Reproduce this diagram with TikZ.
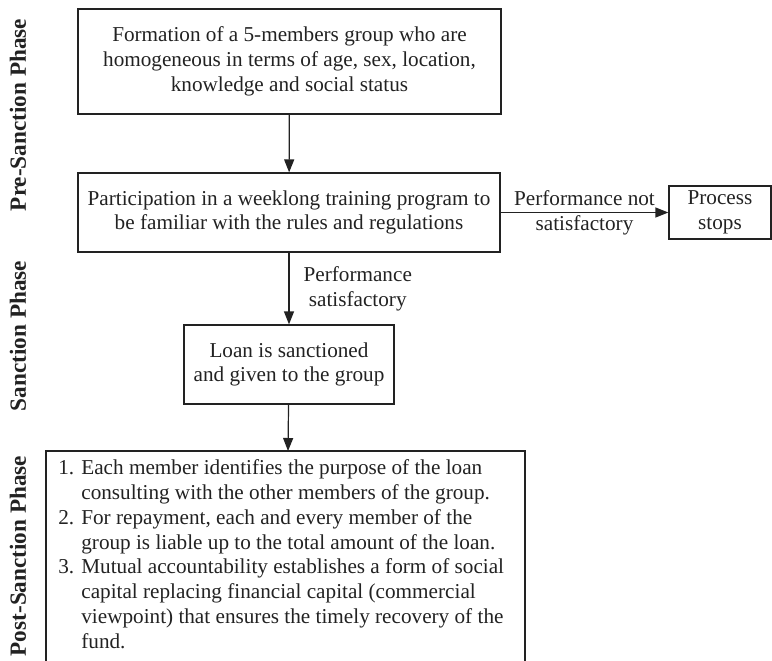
\documentclass[tikz,border=0pt]{standalone}
\usepackage{fontspec}
\setmainfont{Liberation Serif}
\usetikzlibrary{arrows.meta}
\definecolor{ink}{HTML}{222222}
\begin{document}
\begin{tikzpicture}[x=0.5pt,y=-0.5pt,
  every node/.style={text=ink, font=\fontsize{10.6}{12.4}\selectfont},
  box/.style={draw=ink, line width=0.6pt, inner sep=0pt, align=center},
  flow/.style={draw=ink, line width=0.6pt, -{Triangle[length=6.5pt,width=5pt]}},
  phase/.style={rotate=90, font=\fontsize{11.6}{13}\selectfont\bfseries},
  lbl/.style={align=center, inner sep=0pt}]
\useasboundingbox (0,0) rectangle (772,660);

% phase labels
\node[phase] (pre)  at (18,115) {Pre-Sanction Phase};
\node[phase] (sanc) at (18,336) {Sanction Phase};
\node[phase] (post) at (18,556) {Post-Sanction Phase};

% flow boxes
\node[box, minimum width=423pt*0.5, minimum height=105pt*0.5] (form) at (289.5,61.5)
  {Formation of a 5-members group who are\\homogeneous in terms of age, sex, location,\\knowledge and social status};
\node[box, minimum width=422pt*0.5, minimum height=79pt*0.5] (train) at (289,212.5)
  {Participation in a weeklong training program to\\be familiar with the rules and regulations};
\node[box, minimum width=102pt*0.5, minimum height=53pt*0.5] (stop) at (720,212.5)
  {Process\\stops};
\node[box, minimum width=210pt*0.5, minimum height=79pt*0.5] (loan) at (289,364.5)
  {Loan is sanctioned\\and given to the group};

% post-sanction box runs past the lower edge of the page
\coordinate (postTop) at (288,451);
\draw[draw=ink, line width=0.6pt] (46,680) -- (46,451) -- (525,451) -- (525,680);
\node[anchor=north west, inner sep=0pt] (rules) at (58,457)
  {\begin{tabular}{@{}r@{\,\,}l@{}}
   1. & Each member identifies the purpose of the loan\\
      & consulting with the other members of the group.\\
   2. & For repayment, each and every member of the\\
      & group is liable up to the total amount of the loan.\\
   3. & Mutual accountability establishes a form of social\\
      & capital replacing financial capital (commercial\\
      & viewpoint) that ensures the timely recovery of the\\
      & fund.
   \end{tabular}};

% connectors
\draw[flow] (form) -- (train);
\draw[flow] (train) -- node[lbl] {Performance not\\satisfactory} (stop);
\draw[flow] (train) -- node[lbl, right=14pt*0.5] {Performance\\satisfactory} (loan);
\draw[flow] (loan) -- (postTop);
\end{tikzpicture}
\end{document}
